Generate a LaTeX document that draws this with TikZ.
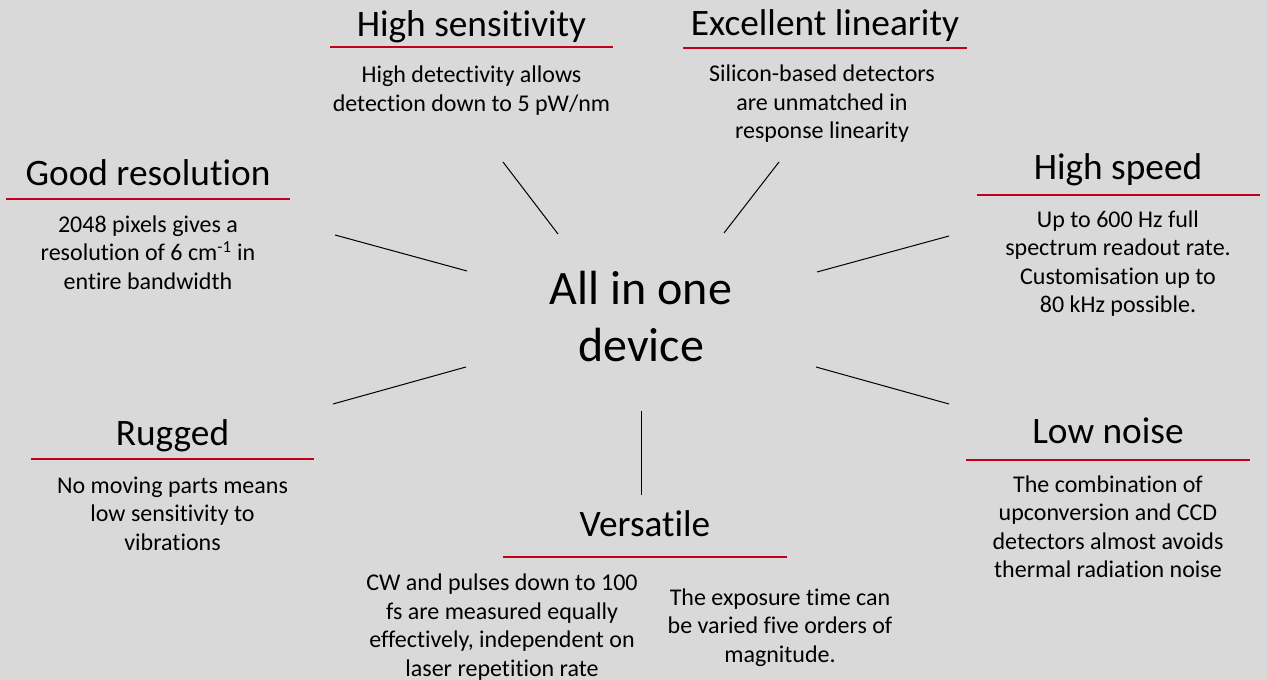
\documentclass[tikz,border=0pt]{standalone}
\usepackage{fontspec}
\setmainfont{Carlito}[Ligatures=NoCommon]
\definecolor{bgc}{RGB}{217,217,217}
\definecolor{accent}{RGB}{192,0,28}
\begin{document}
\begin{tikzpicture}[x=0.75pt,y=-0.75pt,
  title/.style={font=\fontsize{28}{33.6}\selectfont, anchor=base, inner sep=0pt},
  body/.style={font=\fontsize{18}{21.3}\selectfont, align=center, anchor=base, inner sep=0pt},
  hub/.style={font=\fontsize{36}{42.8}\selectfont, align=center, anchor=base, inner sep=0pt},
  redline/.style={draw=accent, line width=1.8pt},
  spoke/.style={draw=black, line width=0.75pt}]
\fill[bgc] (0,0) rectangle (1267,680);
\useasboundingbox (0,0) rectangle (1267,680);

% centre (anchor = baseline of last line)
\node[hub] (hub) at (641,362) {All in one\\device};

% High sensitivity
\node[title] (t1) at (471.5,37) {High sensitivity};
\draw[redline] (330,47) -- (613,47);
\node[body] (b1) at (471.5,111.4) {High detectivity allows\\detection down to 5 pW/nm};

% Excellent linearity
\node[title] (t2) at (825,36) {Excellent linearity};
\draw[redline] (683,48) -- (967,48);
\node[body] (b2) at (822,138.8) {Silicon-based detectors\\are unmatched in\\response linearity};

% Good resolution
\node[title] (t3) at (148,186) {Good resolution};
\draw[redline] (6,199) -- (290,199);
\node[body] (b3) at (148,289.3) {2048 pixels gives a\\resolution of 6 cm\textsuperscript{-1} in\\entire bandwidth};

% High speed
\node[title] (t4) at (1118,180) {High speed};
\draw[redline] (977,195) -- (1260,195);
\node[body] (b4) at (1118,312.6) {Up to 600 Hz full\\spectrum readout rate.\\Customisation up to\\80 kHz possible.};

% Rugged
\node[title] (t5) at (172.5,446) {Rugged};
\draw[redline] (31,459) -- (314,459);
\node[body] (b5) at (172.5,550) {No moving parts means\\low sensitivity to\\vibrations};

% Low noise
\node[title] (t6) at (1108,444) {Low noise};
\draw[redline] (966,460) -- (1250,460);
\node[body] (b6) at (1108,577.6) {The combination of\\upconversion and CCD\\detectors almost avoids\\thermal radiation noise};

% Versatile
\node[title] (t7) at (645,537) {Versatile};
\draw[redline] (503,557) -- (787,557);
\node[body] (b7a) at (502,676) {CW and pulses down to 100\\fs are measured equally\\effectively, independent on\\laser repetition rate};
\node[body] (b7b) at (780,662) {The exposure time can\\be varied five orders of\\magnitude.};

% spokes
\coordinate (a1) at (503,162); \coordinate (a2) at (558,234);
\coordinate (c1) at (779,162); \coordinate (c2) at (724,233);
\coordinate (d1) at (335,235); \coordinate (d2) at (467,271);
\coordinate (e1) at (949,236); \coordinate (e2) at (817,272);
\coordinate (f1) at (333,404); \coordinate (f2) at (466,367);
\coordinate (g1) at (949,404); \coordinate (g2) at (816,367);
\coordinate (h1) at (641,411); \coordinate (h2) at (641,495);
\draw[spoke] (a1) -- (a2);
\draw[spoke] (c1) -- (c2);
\draw[spoke] (d1) -- (d2);
\draw[spoke] (e1) -- (e2);
\draw[spoke] (f1) -- (f2);
\draw[spoke] (g1) -- (g2);
\draw[spoke] (h1) -- (h2);
\end{tikzpicture}
\end{document}
